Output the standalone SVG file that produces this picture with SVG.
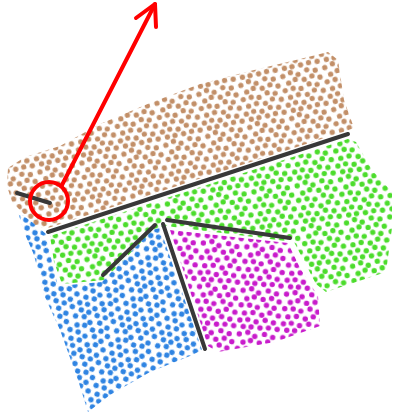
<svg xmlns="http://www.w3.org/2000/svg" xmlns:xlink="http://www.w3.org/1999/xlink" width="397" height="414" viewBox="0 0 397 414">
<style>
.sep{fill:none;stroke:#383838;stroke-width:4;stroke-linecap:round}
.red{fill:none;stroke:#ff0000;stroke-width:4;stroke-linecap:round;stroke-linejoin:round}
</style>
<defs>
<g id="dots">
<circle cx="3" cy="4.5" r="2.4"/><circle cx="10.5" cy="2.5" r="2.4"/><circle cx="17" cy="5.5" r="2.4"/><circle cx="25.5" cy="3" r="2.4"/><circle cx="33" cy="5" r="2.4"/>
<circle cx="7" cy="11.5" r="2.4"/><circle cx="13.5" cy="9.5" r="2.4"/><circle cx="21.5" cy="11" r="2.4"/><circle cx="29" cy="9.5" r="2.4"/><circle cx="36" cy="12" r="2.4"/>
<circle cx="2.5" cy="17.5" r="2.4"/><circle cx="10" cy="17" r="2.4"/><circle cx="17" cy="18.5" r="2.4"/><circle cx="25" cy="16" r="2.4"/><circle cx="32" cy="18" r="2.4"/>
<circle cx="6" cy="24.5" r="2.4"/><circle cx="13.5" cy="23.5" r="2.4"/><circle cx="21.5" cy="25" r="2.4"/><circle cx="28.5" cy="22.5" r="2.4"/><circle cx="36.4" cy="24.5" r="2.4"/>
<circle cx="2.5" cy="31" r="2.4"/><circle cx="9.5" cy="30" r="2.4"/><circle cx="17" cy="31.5" r="2.4"/><circle cx="25" cy="29.5" r="2.4"/><circle cx="32.5" cy="31" r="2.4"/>
<circle cx="6" cy="36.5" r="2.4"/><circle cx="13" cy="36.4" r="2.4"/><circle cx="21" cy="36.5" r="2.4"/><circle cx="28.5" cy="36" r="2.4"/><circle cx="36.4" cy="36.5" r="2.4"/>
</g>
<pattern id="pBrown" width="39" height="39" patternUnits="userSpaceOnUse" patternTransform="rotate(-12) scale(1.1)"><use href="#dots" fill="#c28f68"/></pattern>
<pattern id="pGreen" width="39" height="39" patternUnits="userSpaceOnUse" patternTransform="rotate(-8) translate(3 2) scale(1.12)"><use href="#dots" fill="#4cdc2c"/></pattern>
<pattern id="pBlue" width="39" height="39" patternUnits="userSpaceOnUse" patternTransform="rotate(20) translate(1 4) scale(1.12)"><use href="#dots" fill="#2f84e2"/></pattern>
<pattern id="pMagenta" width="39" height="39" patternUnits="userSpaceOnUse" patternTransform="rotate(5) translate(2 1) scale(1.12)"><use href="#dots" fill="#c81ccb"/></pattern>
</defs>
<g id="brown-region">
<polygon fill="url(#pBrown)" points="8,168 25,157 60,146 100,124 150,103 200,84 250,71 300,59 328,52 338,60 344,100 354,128 346,131 48,228 38,228 25,215 12,202 7,186"/>
</g>
<g id="green-region">
<polygon fill="url(#pGreen)" points="50,236 348,139 356,142 372,170 392,192 392,228 386,272 326,292 316,284 294,242 166,226 154,229 104,280 62,284 54,262"/>
</g>
<g id="blue-region">
<polygon fill="url(#pBlue)" points="18,212 32,222 46,234 52,262 58,286 102,282 152,230 160,228 202,350 190,356 150,372 110,395 88,412 78,380 60,330 44,295 34,255 24,232"/>
</g>
<g id="magenta-region">
<polygon fill="url(#pMagenta)" points="170,230 288,243 300,268 318,296 320,326 275,342 218,352 208,346"/>
</g>
<g id="connectors">
<line class="sep" x1="48" y1="232" x2="348" y2="134"/>
<line class="sep" x1="17" y1="193" x2="50" y2="203"/>
<line class="sep" x1="103" y1="275" x2="155" y2="225"/>
<line class="sep" x1="163" y1="224" x2="205" y2="349"/>
<line class="sep" x1="167" y1="220" x2="290" y2="238"/>
</g>
<g id="red-marker">
<circle class="red" cx="49" cy="201" r="19"/>
<line class="red" x1="62" y1="185" x2="155" y2="4"/>
<polyline class="red" points="136,18 155,4 156,27"/>
</g>
</svg>
